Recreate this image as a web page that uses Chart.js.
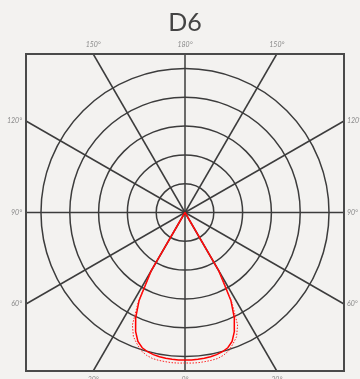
<!DOCTYPE html>
<html>
<head>
<meta charset="utf-8">
<title>D6</title>
<script src="https://cdn.jsdelivr.net/npm/chart.js@4.4.0/dist/chart.umd.min.js"></script>
<style>
  html, body { margin: 0; padding: 0; background: #f3f2f0; }
  #wrap { width: 360px; height: 379px; position: relative; }
</style>
</head>
<body>
<div id="wrap"><canvas id="polar"></canvas></div>
<script>
// gamma angles (deg from nadir) and intensities for the two C-planes
var gammaAngles = [0, 2.5, 5, 7.5, 10, 12.5, 15, 17.5, 20, 22.5, 25, 27.5, 30, 32.5];
var planeC0 = [514, 514, 513, 512, 510, 507, 502, 494, 478, 448, 405, 345, 235, 0];
var planeC90 = [524, 525, 525, 524, 523, 521, 515, 505, 487, 468, 432, 352, 236, 0];

var ringValues = [100, 200, 300, 400, 500];
var spokeAngles = [0, 30, 60, 90, 120, 150];
var halfRange = 552;

// labels where the spokes meet the frame
var topLabels = ['150°', '180°', '150°'];
var sideLabels = ['120°', '90°', '60°'];
var bottomLabels = ['30°', '0°', '30°'];

var gridColor = '#3c3c3c';
var labelColor = '#8a8a8a';

// mirror one half-plane to get the whole curve, polar -> x/y
function toPoints(values) {
  var pts = [];
  for (var i = gammaAngles.length - 1; i >= 0; i--) {
    var a = gammaAngles[i] * Math.PI / 180;
    pts.push({x: -values[i] * Math.sin(a), y: -values[i] * Math.cos(a)});
  }
  for (var j = 1; j < gammaAngles.length; j++) {
    var b = gammaAngles[j] * Math.PI / 180;
    pts.push({x: values[j] * Math.sin(b), y: -values[j] * Math.cos(b)});
  }
  return pts;
}

var polarGrid = {
  id: 'polarGrid',
  beforeDatasetsDraw: function(chart) {
    var ctx = chart.ctx;
    var xs = chart.scales.x, ys = chart.scales.y;
    var cx = xs.getPixelForValue(0), cy = ys.getPixelForValue(0);
    var area = chart.chartArea;
    ctx.save();
    ctx.strokeStyle = gridColor;
    ctx.lineWidth = 1.5;

    ringValues.forEach(function(v) {
      var r = xs.getPixelForValue(v) - cx;
      ctx.beginPath();
      ctx.arc(cx, cy, r, 0, Math.PI * 2);
      ctx.stroke();
    });

    // spokes run through the centre out to the frame
    spokeAngles.forEach(function(deg) {
      var a = deg * Math.PI / 180;
      var dx = Math.sin(a), dy = Math.cos(a);
      var t = Math.min(
        Math.abs(dx) > 1e-9 ? halfRange / Math.abs(dx) : Infinity,
        Math.abs(dy) > 1e-9 ? halfRange / Math.abs(dy) : Infinity
      );
      ctx.beginPath();
      ctx.moveTo(xs.getPixelForValue(-dx * t), ys.getPixelForValue(-dy * t));
      ctx.lineTo(xs.getPixelForValue(dx * t), ys.getPixelForValue(dy * t));
      ctx.stroke();
    });

    ctx.lineWidth = 2;
    ctx.strokeStyle = '#4a4a4a';
    ctx.strokeRect(area.left, area.top, area.right - area.left, area.bottom - area.top);

    // angle labels
    var edgeOff = halfRange * Math.tan(30 * Math.PI / 180);
    ctx.fillStyle = labelColor;
    ctx.font = 'italic 7px Lato, "Open Sans", sans-serif';
    ctx.textBaseline = 'middle';
    ctx.textAlign = 'center';
    var xPos = [-edgeOff, 0, edgeOff];
    topLabels.forEach(function(t, i) {
      ctx.fillText(t, xs.getPixelForValue(xPos[i]), area.top - 9);
    });
    bottomLabels.forEach(function(t, i) {
      ctx.fillText(t, xs.getPixelForValue(xPos[i]), area.bottom + 9);
    });
    var yPos = [edgeOff, 0, -edgeOff];
    sideLabels.forEach(function(t, i) {
      var py = ys.getPixelForValue(yPos[i]);
      ctx.textAlign = 'right';
      ctx.fillText(t, area.left - 4, py);
      ctx.textAlign = 'left';
      ctx.fillText(t, area.right + 3, py);
    });
    ctx.restore();
  }
};

new Chart(document.getElementById('polar'), {
  type: 'scatter',
  data: {
    datasets: [
      {
        label: 'C90-C270',
        data: toPoints(planeC90),
        showLine: true,
        borderColor: '#ff2020',
        borderWidth: 1,
        borderDash: [1.5, 1.5],
        pointRadius: 0,
        tension: 0
      },
      {
        label: 'C0-C180',
        data: toPoints(planeC0),
        showLine: true,
        borderColor: '#ff0000',
        borderWidth: 1.5,
        pointRadius: 0,
        tension: 0
      }
    ]
  },
  options: {
    responsive: true,
    maintainAspectRatio: false,
    animation: false,
    layout: {padding: {left: 26, right: 16, top: 0, bottom: 8}},
    scales: {
      x: {type: 'linear', display: false, min: -halfRange, max: halfRange},
      y: {type: 'linear', display: false, min: -halfRange, max: halfRange}
    },
    plugins: {
      legend: {display: false},
      tooltip: {enabled: false},
      title: {
        display: true,
        text: 'D6',
        color: '#444444',
        font: {family: 'Lato, "Open Sans", sans-serif', size: 25, weight: 'normal'},
        padding: {top: 8, bottom: 16}
      }
    }
  },
  plugins: [polarGrid]
});
</script>
</body>
</html>
